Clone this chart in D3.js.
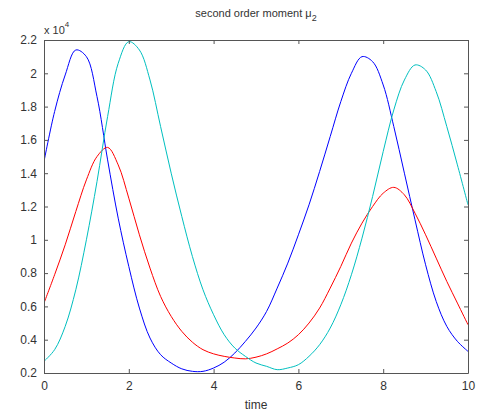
<!DOCTYPE html>
<html><head><meta charset="utf-8">
<script src="https://cdn.jsdelivr.net/npm/d3@7"></script>
<style>
body{margin:0;background:#fff;}
text{font-family:"Liberation Sans",Arial,sans-serif;}
</style></head>
<body><svg id="c" width="481" height="416"></svg>
<script>
const time = [0,0.25,0.5,0.75,1,1.25,1.5,1.75,2,2.25,2.5,2.75,3,3.25,3.5,3.75,4,4.25,4.5,4.75,5,5.25,5.5,5.75,6,6.25,6.5,6.75,7,7.25,7.5,7.75,8,8.25,8.5,8.75,9,9.25,9.5,9.75,10];
const blueSeries = [1.47,1.77,1.99,2.14,2.10,1.86,1.48,1.13,0.84,0.59,0.41,0.31,0.26,0.225,0.21,0.21,0.23,0.265,0.32,0.39,0.47,0.57,0.71,0.86,1.03,1.21,1.41,1.62,1.83,2.00,2.10,2.07,1.93,1.68,1.40,1.12,0.85,0.63,0.48,0.39,0.33];
const cyanSeries = [0.27,0.34,0.48,0.70,1.00,1.35,1.74,2.06,2.19,2.14,1.96,1.68,1.40,1.14,0.90,0.70,0.55,0.43,0.35,0.30,0.26,0.24,0.22,0.23,0.25,0.30,0.37,0.47,0.61,0.79,1.01,1.26,1.53,1.78,1.96,2.05,2.02,1.89,1.68,1.45,1.21];
const redSeries = [0.62,0.79,0.97,1.17,1.36,1.50,1.555,1.45,1.25,1.03,0.83,0.66,0.54,0.45,0.385,0.34,0.315,0.30,0.29,0.285,0.295,0.315,0.345,0.38,0.43,0.50,0.59,0.71,0.84,0.98,1.10,1.20,1.28,1.315,1.27,1.16,1.03,0.89,0.75,0.62,0.49];
const xTicks = [0,2,4,6,8,10];
const yTicks = [0.2,0.4,0.6,0.8,1,1.2,1.4,1.6,1.8,2,2.2];
const yTickLabels = ["0.2","0.4","0.6","0.8","1","1.2","1.4","1.6","1.8","2","2.2"];

const svg = d3.select("#c");
const L=44,R=468,T=40,B=373;
const x = d3.scaleLinear().domain([0,10]).range([L,R]);
const y = d3.scaleLinear().domain([0.2,2.2]).range([B,T]);
const axisColor="#555", textColor="#333";

const line = d3.line().x((d,i)=>x(time[i])).y(d=>y(d)).curve(d3.curveCatmullRom.alpha(0.5));
const g = svg.append("g");
g.append("clipPath").attr("id","clip").append("rect").attr("x",L).attr("y",T).attr("width",R-L).attr("height",B-T);
const lines = g.append("g").attr("clip-path","url(#clip)");
[[blueSeries,"#0000ff"],[redSeries,"#ff0000"],[cyanSeries,"#00bfbf"]].forEach(([s,c])=>{
  lines.append("path").datum(s).attr("d",line).attr("fill","none").attr("stroke",c).attr("stroke-width",1);
});

const fmtY = d=>yTickLabels[yTicks.indexOf(d)];
const axB = d3.axisBottom(x).tickValues(xTicks).tickSizeInner(-4).tickSizeOuter(0).tickPadding(8);
const axT = d3.axisTop(x).tickValues(xTicks).tickSizeInner(-4).tickSizeOuter(0).tickFormat("");
const axL = d3.axisLeft(y).tickValues(yTicks).tickSizeInner(-4).tickSizeOuter(0).tickPadding(7).tickFormat(fmtY);
const axR = d3.axisRight(y).tickValues(yTicks).tickSizeInner(-4).tickSizeOuter(0).tickFormat("");
function style(sel){
  sel.selectAll("path,line").attr("stroke",axisColor).attr("stroke-width",1);
  sel.selectAll("text").attr("fill",textColor).attr("font-size","12px").attr("font-family","'Liberation Sans',Arial,sans-serif");
}
style(svg.append("g").attr("transform",`translate(0,${B})`).call(axB));
style(svg.append("g").attr("transform",`translate(0,${T})`).call(axT));
style(svg.append("g").attr("transform",`translate(${L},0)`).call(axL));
style(svg.append("g").attr("transform",`translate(${R},0)`).call(axR));

const title = svg.append("text").attr("x",(L+R)/2).attr("y",17).attr("text-anchor","middle").attr("font-size","11px").attr("fill",textColor);
title.append("tspan").text("second order moment \u03bc");
title.append("tspan").attr("dy",4).attr("font-size","9px").text("2");
const ex = svg.append("text").attr("x",44).attr("y",34).attr("font-size","11px").attr("fill",textColor);
ex.append("tspan").text("x 10");
ex.append("tspan").attr("dy",-7).attr("font-size","8px").text("4");
svg.append("text").attr("x",(L+R)/2).attr("y",409).attr("text-anchor","middle").attr("font-size","12px").attr("fill",textColor).text("time");
</script></body></html>
